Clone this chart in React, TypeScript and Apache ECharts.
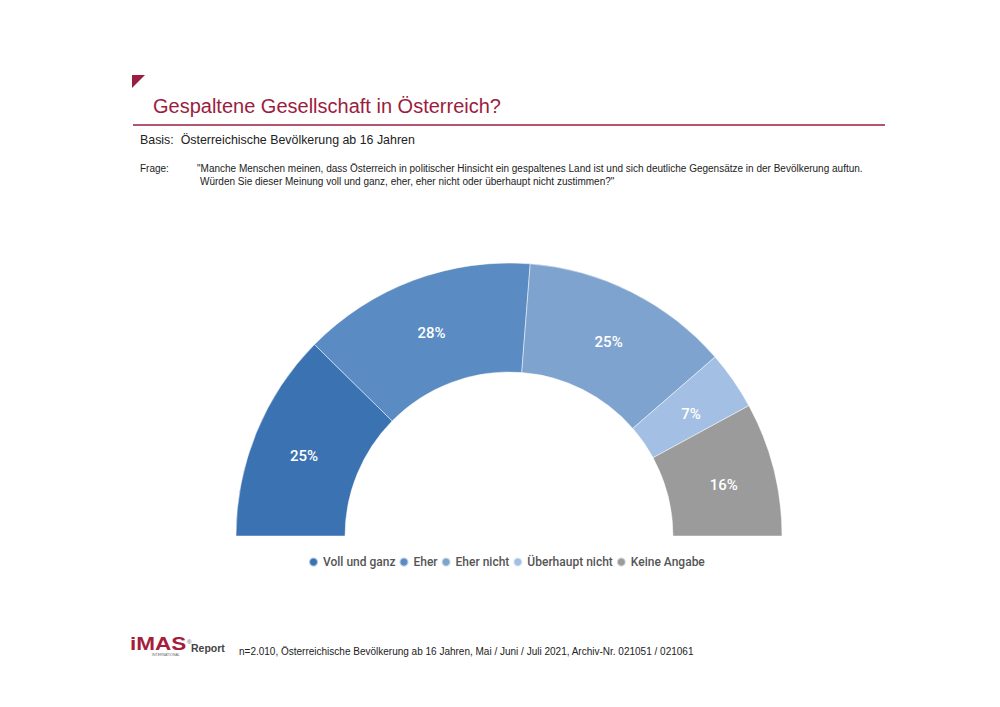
import React, { useEffect, useRef } from "react";
import * as echarts from "echarts";

const categories = ["Voll und ganz", "Eher", "Eher nicht", "Überhaupt nicht", "Keine Angabe"];
const values = [25, 28, 25, 7, 16];
const colors = ["#3b72b2", "#5a8cc3", "#7fa3cf", "#a3c0e4", "#9b9b9b"];

const title = "Gespaltene Gesellschaft in Österreich?";
const basis = "Basis:  Österreichische Bevölkerung ab 16 Jahren";
const frageLabel = "Frage:";
const frageLines = [
  "\"Manche Menschen meinen, dass Österreich in politischer Hinsicht ein gespaltenes Land ist und sich deutliche Gegensätze in der Bevölkerung auftun.",
  "Würden Sie dieser Meinung voll und ganz, eher, eher nicht oder überhaupt nicht zustimmen?\"",
];
const footer = "n=2.010, Österreichische Bevölkerung ab 16 Jahren, Mai / Juni / Juli 2021, Archiv-Nr. 021051 / 021061";

export default function App() {
  const ref = useRef<HTMLDivElement>(null);
  useEffect(() => {
    const chart = echarts.init(ref.current!, null, { renderer: "svg" });
    const crimson = "#9b1d40";
    const font = "'Liberation Sans', Arial, sans-serif";
    chart.setOption({
      animation: false,
      backgroundColor: "#ffffff",
      legend: {
        bottom: 134,
        left: 303,
        icon: "circle",
        itemWidth: 9,
        itemHeight: 9,
        itemGap: 3,
        textStyle: { fontFamily: "Roboto", fontSize: 12, fontWeight: 500, color: "#555555" },
        data: categories,
      },
      graphic: [
        { type: "polygon", shape: { points: [[132, 75], [145, 75], [132, 88]] }, style: { fill: crimson } },
        { type: "text", x: 153, y: 96, style: { text: title, font: `20px ${font}`, fill: crimson } },
        { type: "line", shape: { x1: 133, y1: 125, x2: 885, y2: 125 }, style: { stroke: crimson, lineWidth: 1.5 } },
        { type: "text", x: 140, y: 134, style: { text: basis, font: `12.4px ${font}`, fill: "#222" } },
        { type: "text", x: 140, y: 163, style: { text: frageLabel, font: `10px ${font}`, fill: "#222" } },
        { type: "text", x: 197, y: 163, style: { text: frageLines[0], font: `10px ${font}`, fill: "#222" } },
        { type: "text", x: 200, y: 176, style: { text: frageLines[1], font: `10px ${font}`, fill: "#222" } },
        { type: "text", x: 130, y: 635, scaleX: 1.25, style: { text: "iMAS", font: `bold 18px ${font}`, fill: "#a51d3a" } },
        { type: "text", x: 187, y: 639, style: { text: "®", font: `6px ${font}`, fill: "#555" } },
        { type: "text", x: 191, y: 642, style: { text: "Report", font: `bold 10.5px ${font}`, fill: "#444" } },
        { type: "text", x: 152, y: 653, style: { text: "INTERNATIONAL", font: `3.5px ${font}`, fill: "#666" } },
        { type: "text", x: 239, y: 646, style: { text: footer, font: `10px ${font}`, fill: "#222" } },
      ],
      series: [
        {
          type: "pie",
          center: [509, 536],
          radius: [164, 273],
          startAngle: 180,
          endAngle: 0,
          clockwise: true,
          avoidLabelOverlap: false,
          itemStyle: { borderColor: "rgba(255,255,255,0.6)", borderWidth: 0.8 },
          label: {
            show: true,
            position: "inside",
            formatter: "{c}%",
            color: "#ffffff",
            fontFamily: "Roboto",
            fontSize: 15,
            fontWeight: 500,
            offset: [0, 4],
          },
          labelLine: { show: false },
          data: categories.map((name, i) => ({ name, value: values[i], itemStyle: { color: colors[i] } })),
        },
      ],
    });
    return () => chart.dispose();
  }, []);
  return <div ref={ref} style={{ position: "absolute", left: 0, top: 0, width: 1000, height: 707 }} />;
}
